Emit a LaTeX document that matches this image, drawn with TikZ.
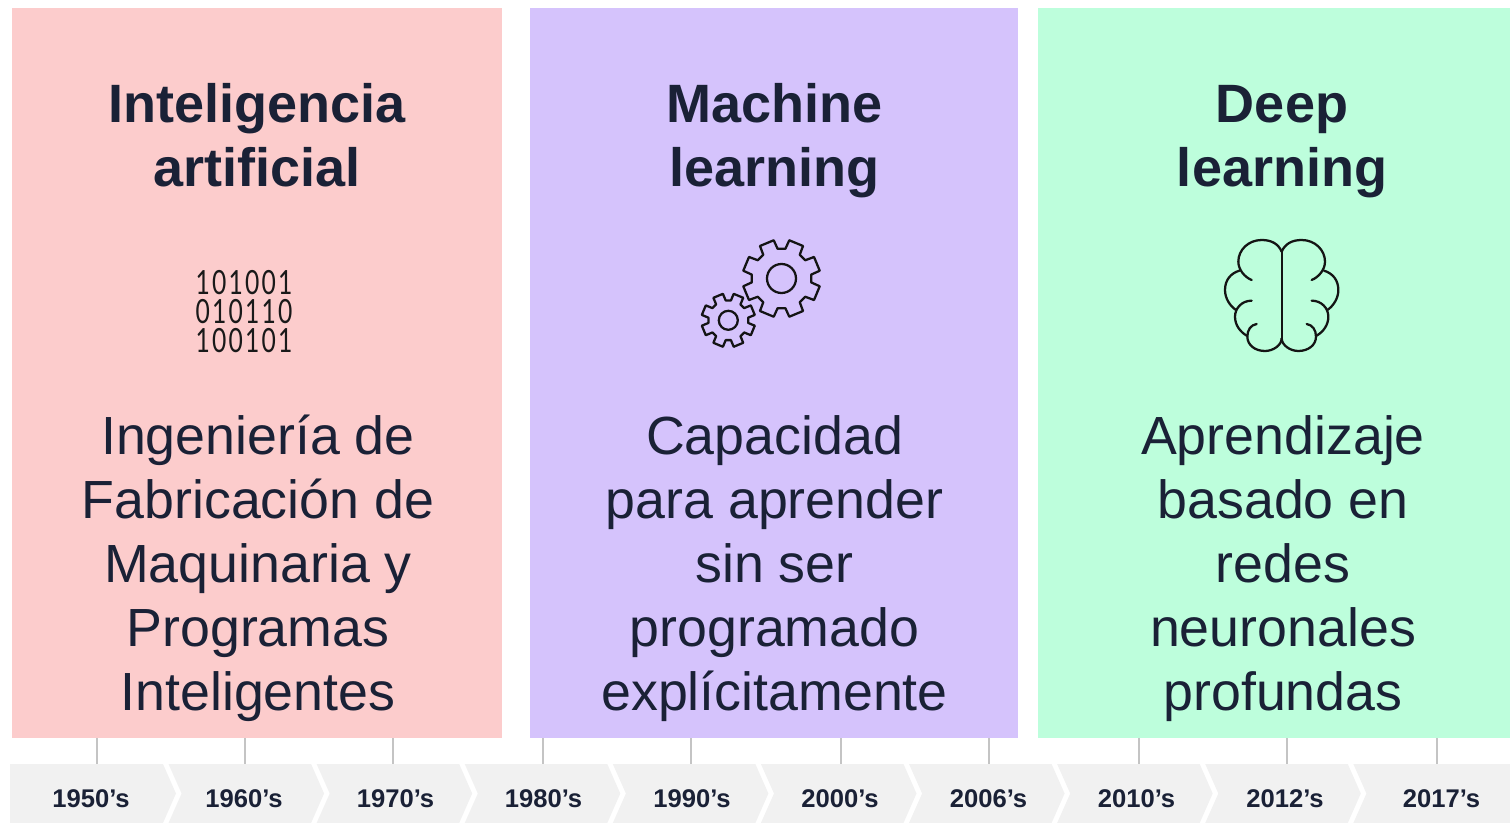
\documentclass[tikz,border=0pt]{standalone}
\usepackage{fontspec}
\setmainfont{Liberation Sans}
\newfontfamily\binfont[FakeStretch=0.74,LetterSpace=6.5]{Lato}
\definecolor{ink}{HTML}{1A2136}
\definecolor{pinkp}{HTML}{FCCCCC}
\definecolor{lilacp}{HTML}{D5C3FC}
\definecolor{mintp}{HTML}{BDFEDC}
\definecolor{chevf}{HTML}{F1F1F1}
\definecolor{tickc}{HTML}{C4C4C4}
\tikzset{
  x=0.75pt,y=-0.75pt,
  titletext/.style={font=\fontsize{40.5}{48}\selectfont\bfseries,text=ink,align=center,inner sep=0pt,anchor=base},
  bodytext/.style={font=\fontsize{40.3}{48}\selectfont,text=ink,align=center,inner sep=0pt,anchor=base},
  yeartext/.style={font=\fontsize{19.2}{22}\selectfont\bfseries,text=ink,inner sep=0pt,anchor=base},
  bintext/.style={font=\fontsize{25}{21.75}\selectfont\binfont,text=black!90,align=center,inner sep=0pt,anchor=base},
  tickline/.style={draw=tickc,line width=1.5pt},
  icon/.style={draw=black!92,line width=1.7pt,line join=round,line cap=round},
}
\newcommand{\gearshape}[5]{% cx cy rootr outerr phase
  \begin{scope}[shift={(#1,#2)}]
  \draw[icon] (#5-15:#3)
    \foreach \k in {1,...,8}{
      -- (#5+\k*45-45-15:#3)
      -- (#5+\k*45-45-11:#4)
      -- (#5+\k*45-45+11:#4)
      -- (#5+\k*45-45+15:#3)
      -- (#5+\k*45-45+30:#3)
    } -- cycle;
  \end{scope}}
\newcommand{\brainhalf}{%
  \draw[icon] (215,65) .. controls (205,42) and (185,30) .. (155,30) .. controls (115,30) and (85,60) .. (85,95) .. controls (85,120) and (105,142) .. (125,150);
  \draw[icon] (88,122) .. controls (62,130) and (45,150) .. (45,180) .. controls (45,205) and (60,228) .. (78,240);
  \draw[icon] (125,212) .. controls (95,212) and (75,235) .. (75,260) .. controls (75,285) and (90,305) .. (110,317);
  \draw[icon] (140,282) .. controls (122,285) and (112,300) .. (112,320) .. controls (112,345) and (135,363) .. (165,363) .. controls (190,363) and (215,345) .. (215,325);
  \draw[icon] (215,65) -- (215,325);}
\begin{document}
\begin{tikzpicture}
\useasboundingbox (0,0) rectangle (1510,823);
\fill[pinkp] (12,8) rectangle (502,738);
\fill[lilacp] (530,8) rectangle (1018,738);
\fill[mintp] (1038,8) rectangle (1510,738);
% titles
\node[titletext] (t1) at (257,187) {Inteligencia\\artificial};
\node[titletext] (t2) at (774.5,187) {Machine\\learning};
\node[titletext] (t3) at (1282,187) {Deep\\learning};
% bodies
\node[bodytext,anchor=south] (b1) at (258,722) {Ingeniería de\\Fabricación de\\Maquinaria y\\Programas\\Inteligentes};
\node[bodytext,anchor=south] (b2) at (774.5,722) {Capacidad\\para aprender\\sin ser\\programado\\explícitamente};
\node[bodytext,anchor=south] (b3) at (1283,722) {Aprendizaje\\basado en\\redes\\neuronales\\profundas};
% binary icon
\node[bintext] (bin) at (244,353) {101001\\010110\\100101};
% gears
\gearshape{728.3}{320.3}{20}{27}{22.5}
\draw[icon] (728.3,320.3) circle[radius=9.5];
\gearshape{781.5}{278.5}{30}{39}{22.5}
\draw[icon] (781.5,278.5) circle[radius=14.5];
% brain
\begin{scope}[shift={(1210,230)},x=0.25pt,y=-0.25pt]\brainhalf\end{scope}
\begin{scope}[shift={(1353.33,230)},x=-0.25pt,y=-0.25pt]\brainhalf\end{scope}
% timeline
\foreach \i/\xa/\xl/\xt/\lab in {0/10/91/97/1950,1/158.1/244/245/1960,2/306.2/395.5/393/1970,3/454.3/543.5/543/1980,4/602.4/692/691/1990,5/750.5/840/841/2000,6/898.6/988.5/989/2006,7/1046.7/1136.5/1139/2010,8/1194.8/1285/1287/2012,9/1342.9/1441.5/1437/2017}{
  \ifnum\i=0
    \fill[chevf] (10,764) -- (163,764) -- (176,793.5) -- (163,823) -- (10,823) -- cycle;
  \else\ifnum\i=9
    \fill[chevf] (\xa+10.4,764) -- (1510,764) -- (1510,823) -- (\xa+10.4,823) -- (\xa+23.5,793.5) -- cycle;
  \else
    \fill[chevf] (\xa+10.4,764) -- (\xa+153,764) -- (\xa+166,793.5) -- (\xa+153,823) -- (\xa+10.4,823) -- (\xa+23.5,793.5) -- cycle;
  \fi\fi
  \node[yeartext] (y\i) at (\xl,807) {\lab’s};
  \coordinate (tt\i) at (\xt,738);
  \coordinate (tb\i) at (\xt,764);
  \draw[tickline] (tt\i) -- (tb\i);
}
\end{tikzpicture}
\end{document}
